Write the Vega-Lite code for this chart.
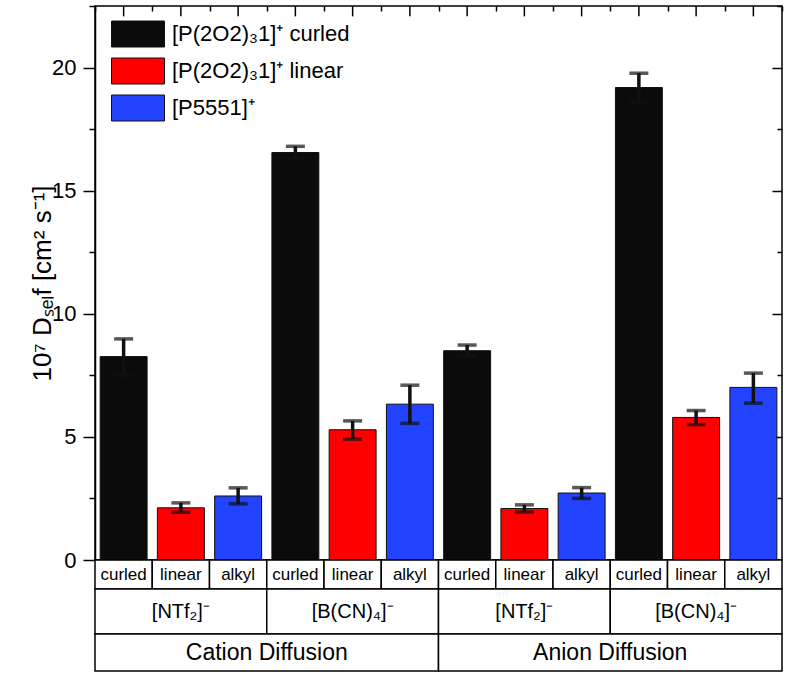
{
  "$schema": "https://vega.github.io/schema/vega-lite/v6.json",
  "padding": {"left": 28, "top": 4, "right": 5, "bottom": 3},
  "spacing": 0,
  "bounds": "flush",
  "config": {
    "view": {"stroke": null},
    "font": "Liberation Sans",
    "concat": {"spacing": 0}
  },
  "datasets": {
    "bars": [
      {"key": "C-NTf2-curled", "series": "[P(2O2)₃1]⁺ curled", "value": 8.26, "lo": 7.5, "hi": 8.98},
      {"key": "C-NTf2-linear", "series": "[P(2O2)₃1]⁺ linear", "value": 2.12, "lo": 1.94, "hi": 2.32},
      {"key": "C-NTf2-alkyl", "series": "[P5551]⁺", "value": 2.6, "lo": 2.28, "hi": 2.93},
      {"key": "C-BCN4-curled", "series": "[P(2O2)₃1]⁺ curled", "value": 16.55, "lo": 16.3, "hi": 16.8},
      {"key": "C-BCN4-linear", "series": "[P(2O2)₃1]⁺ linear", "value": 5.29, "lo": 4.91, "hi": 5.65},
      {"key": "C-BCN4-alkyl", "series": "[P5551]⁺", "value": 6.33, "lo": 5.55, "hi": 7.1},
      {"key": "A-NTf2-curled", "series": "[P(2O2)₃1]⁺ curled", "value": 8.5, "lo": 8.27, "hi": 8.73},
      {"key": "A-NTf2-linear", "series": "[P(2O2)₃1]⁺ linear", "value": 2.09, "lo": 1.95, "hi": 2.24},
      {"key": "A-NTf2-alkyl", "series": "[P5551]⁺", "value": 2.72, "lo": 2.5, "hi": 2.94},
      {"key": "A-BCN4-curled", "series": "[P(2O2)₃1]⁺ curled", "value": 19.19, "lo": 18.6, "hi": 19.77},
      {"key": "A-BCN4-linear", "series": "[P(2O2)₃1]⁺ linear", "value": 5.79, "lo": 5.5, "hi": 6.07},
      {"key": "A-BCN4-alkyl", "series": "[P5551]⁺", "value": 7.01, "lo": 6.37, "hi": 7.59}
    ],
    "row1": [
      {"key": "C-NTf2-curled", "label": "curled"},
      {"key": "C-NTf2-linear", "label": "linear"},
      {"key": "C-NTf2-alkyl", "label": "alkyl"},
      {"key": "C-BCN4-curled", "label": "curled"},
      {"key": "C-BCN4-linear", "label": "linear"},
      {"key": "C-BCN4-alkyl", "label": "alkyl"},
      {"key": "A-NTf2-curled", "label": "curled"},
      {"key": "A-NTf2-linear", "label": "linear"},
      {"key": "A-NTf2-alkyl", "label": "alkyl"},
      {"key": "A-BCN4-curled", "label": "curled"},
      {"key": "A-BCN4-linear", "label": "linear"},
      {"key": "A-BCN4-alkyl", "label": "alkyl"}
    ],
    "row2": [
      {"key": "C-NTf2", "label": "[NTf₂]⁻"},
      {"key": "C-BCN4", "label": "[B(CN)₄]⁻"},
      {"key": "A-NTf2", "label": "[NTf₂]⁻"},
      {"key": "A-BCN4", "label": "[B(CN)₄]⁻"}
    ],
    "row3": [
      {"key": "Cation", "label": "Cation Diffusion"},
      {"key": "Anion", "label": "Anion Diffusion"}
    ]
  },
  "vconcat": [
    {
      "width": 687,
      "height": 554,
      "data": {"name": "bars"},
      "view": {"stroke": "#000", "strokeWidth": 1.5},
      "layer": [
        {
          "mark": {"type": "bar", "width": {"band": 0.82}, "stroke": "#111111", "strokeWidth": 1},
          "encoding": {
            "x": {
              "field": "key", "type": "nominal", "sort": null,
              "scale": {"paddingInner": 0, "paddingOuter": 0},
              "axis": {"orient": "top", "offset": -5, "title": null, "labels": false, "domain": false, "tickSize": 5, "tickColor": "#000", "tickWidth": 1.5, "tickBand": "extent"}
            },
            "y": {
              "field": "value", "type": "quantitative",
              "scale": {"domain": [0, 22.5], "nice": false},
              "axis": {
                "title": "10⁷ Dₛₑₗf [cm² s⁻¹]",
                "titleFontSize": 26, "titleFontWeight": "normal", "titleColor": "#000", "titlePadding": -4,
                "values": [0, 2.5, 5, 7.5, 10, 12.5, 15, 17.5, 20, 22.5],
                "labelExpr": "datum.value % 5 === 0 ? datum.label : ''",
                "labelFontSize": 22, "labelColor": "#000", "labelPadding": 7,
                "tickSize": {"condition": {"test": "datum.value % 5 === 0", "value": 12}, "value": 6},
                "tickColor": "#000", "tickWidth": 1.5, "domainColor": "#000", "domainWidth": 1.5, "grid": false
              }
            },
            "color": {
              "field": "series", "type": "nominal",
              "scale": {"domain": ["[P(2O2)₃1]⁺ curled", "[P(2O2)₃1]⁺ linear", "[P5551]⁺"], "range": ["#0b0b0b", "#ff0000", "#2243ff"]},
              "legend": {
                "title": null, "orient": "none", "legendX": 32, "legendY": 17,
                "symbolType": "M-5.3,-2.6H5.3V2.6H-5.3Z", "symbolSize": 100, "symbolStrokeColor": "#111", "symbolStrokeWidth": 1, "symbolOpacity": 1,
                "labelFontSize": 22, "labelColor": "#000", "labelOffset": 23, "rowPadding": 7, "labelLimit": 400
              }
            }
          }
        },
        {
          "mark": {"type": "rule", "color": "#111", "strokeWidth": 3.5},
          "encoding": {
            "x": {"field": "key", "type": "nominal", "sort": null},
            "y": {
              "field": "lo", "type": "quantitative",
              "axis": {
                "orient": "right", "offset": -10, "title": null, "labels": false, "domain": false,
                "values": [0, 5, 10, 15, 20],
                "tickSize": 10, "tickColor": "#000", "tickWidth": 1.5, "grid": false
              }
            },
            "y2": {"field": "hi"}
          }
        },
        {
          "mark": {"type": "tick", "color": "#111", "thickness": 3.5, "size": 19, "orient": "horizontal"},
          "encoding": {
            "x": {"field": "key", "type": "nominal", "sort": null},
            "y": {
              "field": "hi", "type": "quantitative",
              "axis": {
                "orient": "right", "offset": -5, "title": null, "labels": false, "domain": false,
                "values": [2.5, 7.5, 12.5, 17.5, 22.5],
                "tickSize": 5, "tickColor": "#000", "tickWidth": 1.5, "grid": false
              }
            }
          }
        },
        {
          "mark": {"type": "tick", "color": "#111", "thickness": 3.5, "size": 19, "orient": "horizontal"},
          "encoding": {
            "x": {"field": "key", "type": "nominal", "sort": null},
            "y": {"field": "lo", "type": "quantitative", "axis": null}
          }
        },
        {
          "mark": {"type": "rule", "color": "#000", "strokeWidth": 1.5},
          "encoding": {
            "x": {"field": "key", "type": "nominal", "sort": null},
            "y": {"datum": 22.5, "type": "quantitative", "axis": null},
            "y2": {"datum": 22.08}
          }
        }
      ],
      "resolve": {"axis": {"y": "independent"}}
    },
    {
      "width": 687,
      "height": 29,
      "data": {"name": "row1"},
      "layer": [
        {
          "mark": {"type": "bar", "fill": "#fff", "stroke": "#000", "strokeWidth": 1.5},
          "encoding": {
            "x": {"field": "key", "type": "nominal", "sort": null, "scale": {"paddingInner": 0, "paddingOuter": 0}, "axis": null}
          }
        },
        {
          "mark": {"type": "text", "fontSize": 17, "color": "#000", "baseline": "middle"},
          "encoding": {
            "x": {"field": "key", "type": "nominal", "sort": null},
            "text": {"field": "label"}
          }
        }
      ]
    },
    {
      "width": 687,
      "height": 45,
      "data": {"name": "row2"},
      "layer": [
        {
          "mark": {"type": "bar", "fill": "#fff", "stroke": "#000", "strokeWidth": 1.5},
          "encoding": {
            "x": {"field": "key", "type": "nominal", "sort": null, "scale": {"paddingInner": 0, "paddingOuter": 0}, "axis": null}
          }
        },
        {
          "mark": {"type": "text", "fontSize": 20, "color": "#000", "baseline": "middle"},
          "encoding": {
            "x": {"field": "key", "type": "nominal", "sort": null},
            "text": {"field": "label"}
          }
        }
      ]
    },
    {
      "width": 687,
      "height": 37,
      "data": {"name": "row3"},
      "layer": [
        {
          "mark": {"type": "bar", "fill": "#fff", "stroke": "#000", "strokeWidth": 1.5},
          "encoding": {
            "x": {"field": "key", "type": "nominal", "sort": null, "scale": {"paddingInner": 0, "paddingOuter": 0}, "axis": null}
          }
        },
        {
          "mark": {"type": "text", "fontSize": 23, "color": "#000", "baseline": "middle"},
          "encoding": {
            "x": {"field": "key", "type": "nominal", "sort": null},
            "text": {"field": "label"}
          }
        }
      ]
    }
  ]
}
